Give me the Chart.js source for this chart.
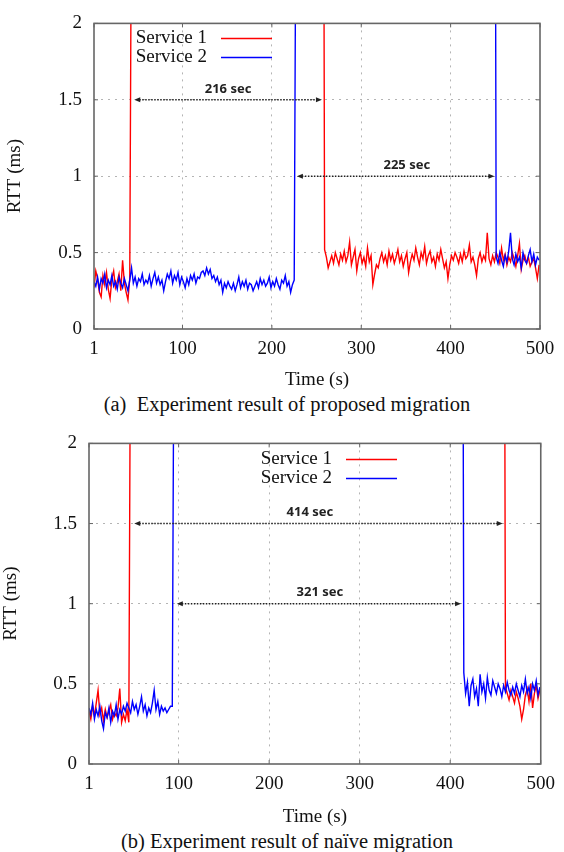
<!DOCTYPE html>
<html>
<head>
<meta charset="utf-8">
<script src="https://cdn.jsdelivr.net/npm/chart.js@4.4.1/dist/chart.umd.min.js"></script>
<style>
  html, body { margin: 0; padding: 0; background: #fff; }
  body { width: 564px; height: 852px; position: relative; overflow: hidden; font-family: "Liberation Serif", "Times New Roman", serif; }
  .box { position: absolute; left: 0; width: 564px; }
  .caption { position: absolute; left: 0; width: 574px; text-align: center; font-size: 20.5px; line-height: 22px; color: #111; white-space: nowrap; }
</style>
</head>
<body>
<div class="box" style="top:0;height:391px"><canvas id="chartA"></canvas></div>
<div class="caption" style="top:393px">(a)&nbsp; Experiment result of proposed migration</div>
<div class="box" style="top:420px;height:408px"><canvas id="chartB"></canvas></div>
<div class="caption" style="top:830px">(b) Experiment result of naïve migration</div>

<script>
// samples are every 2 s; while a service is migrating its RTT is off the scale
const step = 2;
const offScale = 3;
const xTicks = [1, 100, 200, 300, 400, 500];
const seriesNames = ['Service 1', 'Service 2'];
const seriesColors = ['#ff0000', '#0000ff'];

// (a) proposed migration
const aSvc1Pre = [0.27, 0.38, 0.33, 0.24, 0.21, 0.35, 0.29, 0.37, 0.26, 0.20, 0.33, 0.38, 0.27, 0.31, 0.36, 0.25, 0.45, 0.30, 0.24, 0.19, 0.33];
const aSvc1Out = [43, 258];
const aSvc1Post = [
  0.52, 0.47, 0.40, 0.44, 0.48, 0.43, 0.50, 0.46, 0.42, 0.49,
  0.45, 0.51, 0.44, 0.48, 0.57, 0.42, 0.47, 0.52, 0.38, 0.46,
  0.50, 0.43, 0.47, 0.41, 0.53, 0.44, 0.48, 0.29, 0.36, 0.42,
  0.40, 0.46, 0.50, 0.44, 0.48, 0.42, 0.51, 0.45, 0.49, 0.43,
  0.47, 0.52, 0.44, 0.48, 0.41, 0.46, 0.50, 0.37, 0.44, 0.49,
  0.45, 0.53, 0.47, 0.42, 0.50, 0.46, 0.54, 0.43, 0.48, 0.51,
  0.44, 0.47, 0.41, 0.49, 0.45, 0.52, 0.46, 0.40, 0.44, 0.33,
  0.42, 0.48, 0.45, 0.50, 0.47, 0.43, 0.49, 0.44, 0.51, 0.46,
  0.48, 0.55, 0.44, 0.47, 0.42, 0.35, 0.46, 0.50, 0.44, 0.48,
  0.45, 0.63, 0.46, 0.42, 0.48, 0.44, 0.50, 0.47, 0.43, 0.53,
  0.45, 0.49, 0.42, 0.47, 0.44, 0.50, 0.46, 0.41, 0.48, 0.56,
  0.39, 0.45, 0.48, 0.43, 0.47, 0.41, 0.44, 0.46, 0.40, 0.33,
  0.42
];
const aSvc2Pre = [
  0.31, 0.28, 0.34, 0.26, 0.33, 0.30, 0.36, 0.27, 0.32, 0.29,
  0.35, 0.28, 0.31, 0.26, 0.34, 0.30, 0.27, 0.33, 0.29, 0.25,
  0.32, 0.40, 0.30, 0.34, 0.28, 0.33, 0.31, 0.36, 0.29, 0.32,
  0.30, 0.35, 0.28, 0.33, 0.37, 0.30, 0.34, 0.29, 0.32, 0.25,
  0.31, 0.36, 0.33, 0.38, 0.30, 0.35, 0.32, 0.37, 0.29, 0.34,
  0.31, 0.27, 0.33, 0.29, 0.35, 0.32, 0.36, 0.30, 0.34, 0.33,
  0.37, 0.38, 0.35, 0.40, 0.36, 0.39, 0.33, 0.35, 0.31, 0.34,
  0.29, 0.32, 0.24, 0.30, 0.27, 0.31, 0.28, 0.26, 0.30, 0.25,
  0.29, 0.34, 0.27, 0.31, 0.28, 0.32, 0.26, 0.30, 0.29, 0.25,
  0.28, 0.31, 0.27, 0.33, 0.29, 0.32, 0.28, 0.30, 0.34, 0.27,
  0.31, 0.28, 0.33, 0.29, 0.26, 0.32, 0.30, 0.35, 0.28, 0.31,
  0.24, 0.29, 0.32
];
const aSvc2Out = [227, 450];
const aSvc2Post = [0.47, 0.43, 0.50, 0.45, 0.41, 0.48, 0.44, 0.51, 0.63, 0.46, 0.42, 0.49, 0.44, 0.47, 0.40, 0.50, 0.45, 0.43, 0.48, 0.52, 0.44, 0.49, 0.42, 0.47, 0.45];
const aGapFrom = [46, 228];
const aGapTo = [256, 449];
const aGapY = [1.5, 1];
const aGapText = ['216 sec', '225 sec'];
const aGapLabelAt = [151, 351];

// (b) naive migration
const bSvc1Pre = [0.33, 0.28, 0.36, 0.30, 0.38, 0.46, 0.31, 0.35, 0.27, 0.34, 0.29, 0.33, 0.37, 0.28, 0.32, 0.30, 0.35, 0.47, 0.26, 0.31, 0.27, 0.34, 0.26];
const bSvc1Out = [47, 460];
const bSvc1Post = [0.48, 0.44, 0.40, 0.46, 0.42, 0.38, 0.45, 0.41, 0.36, 0.28, 0.34, 0.43, 0.47, 0.39, 0.50, 0.35, 0.44, 0.49, 0.41, 0.46];
const bSvc2Pre = [
  0.35, 0.31, 0.38, 0.28, 0.34, 0.30, 0.36, 0.27, 0.22, 0.32,
  0.29, 0.35, 0.26, 0.33, 0.30, 0.37, 0.28, 0.34, 0.31, 0.36,
  0.33, 0.38, 0.35, 0.32, 0.39, 0.34, 0.37, 0.31, 0.36, 0.42,
  0.33, 0.37, 0.30, 0.35, 0.32, 0.38, 0.46, 0.34, 0.39, 0.31,
  0.36, 0.33, 0.35, 0.32, 0.34, 0.36, 0.36
];
const bSvc2Out = [95, 414];
const bSvc2Post = [
  0.57, 0.44, 0.51, 0.36, 0.49, 0.53, 0.42, 0.47, 0.36, 0.56,
  0.45, 0.50, 0.41, 0.54, 0.46, 0.43, 0.52, 0.48, 0.44, 0.50,
  0.47, 0.42, 0.49, 0.45, 0.51, 0.46, 0.43, 0.48, 0.44, 0.50,
  0.46, 0.42, 0.49, 0.45, 0.53, 0.44, 0.48, 0.41, 0.50, 0.46,
  0.52, 0.43, 0.48
];
const bGapFrom = [51, 98];
const bGapTo = [458, 412];
const bGapY = [1.5, 1];
const bGapText = ['414 sec', '321 sec'];
const bGapLabelAt = [245, 256];

Chart.defaults.font.family = '"Liberation Serif", "Times New Roman", serif';
Chart.defaults.font.size = 19;
Chart.defaults.color = '#111';

function buildSeries(pre, out, post) {
  const pts = pre.map((v, i) => ({ x: 1 + i * step, y: v }));
  pts.push({ x: out[0], y: offScale }, { x: out[1], y: offScale });
  post.forEach((v, i) => pts.push({ x: out[1] + 1 + i * step, y: v }));
  return pts;
}

function arrowHead(ctx, x, y, dir) {
  ctx.beginPath();
  ctx.moveTo(x, y);
  ctx.lineTo(x + dir * 6, y - 2.5);
  ctx.lineTo(x + dir * 6, y + 2.5);
  ctx.closePath();
  ctx.fill();
}

// frame, inner tick marks, gap arrows and the key
function makeOverlay(gaps, key) {
  return {
    id: 'overlay',
    afterDatasetsDraw(chart) {
      const { ctx, chartArea: a, scales: { x, y } } = chart;
      ctx.save();

      ctx.strokeStyle = '#222';
      ctx.fillStyle = '#222';
      ctx.lineWidth = 1.4;
      gaps.from.forEach((f, i) => {
        const x1 = x.getPixelForValue(f);
        const x2 = x.getPixelForValue(gaps.to[i]);
        const yy = y.getPixelForValue(gaps.y[i]);
        ctx.setLineDash([1.5, 1.5]);
        ctx.beginPath();
        ctx.moveTo(x1 + 5, yy);
        ctx.lineTo(x2 - 5, yy);
        ctx.stroke();
        ctx.setLineDash([]);
        arrowHead(ctx, x1, yy, 1);
        arrowHead(ctx, x2, yy, -1);
        ctx.font = 'bold 13px "Noto Sans", "DejaVu Sans", sans-serif';
        ctx.textAlign = 'center';
        ctx.textBaseline = 'middle';
        ctx.fillText(gaps.text[i], x.getPixelForValue(gaps.labelAt[i]), yy - 11);
      });

      // key
      ctx.font = '19px "Liberation Serif", "Times New Roman", serif';
      ctx.textAlign = 'right';
      ctx.textBaseline = 'middle';
      chart.data.datasets.forEach((ds, i) => {
        const ty = a.top + key.top + i * 19;
        const tx = a.left + key.right;
        ctx.fillStyle = '#111';
        ctx.fillText(ds.label, tx, ty);
        ctx.strokeStyle = ds.borderColor;
        ctx.lineWidth = 1.5;
        ctx.beginPath();
        ctx.moveTo(tx + 14, ty);
        ctx.lineTo(tx + 65, ty);
        ctx.stroke();
      });

      // small inward tick marks
      ctx.strokeStyle = '#666';
      ctx.lineWidth = 1;
      x.ticks.forEach(t => {
        const px = x.getPixelForValue(t.value);
        ctx.beginPath();
        ctx.moveTo(px, a.bottom); ctx.lineTo(px, a.bottom - 4);
        ctx.moveTo(px, a.top); ctx.lineTo(px, a.top + 4);
        ctx.stroke();
      });
      y.ticks.forEach(t => {
        const py = y.getPixelForValue(t.value);
        ctx.beginPath();
        ctx.moveTo(a.left, py); ctx.lineTo(a.left + 4, py);
        ctx.moveTo(a.right, py); ctx.lineTo(a.right - 4, py);
        ctx.stroke();
      });

      // plot frame
      ctx.strokeStyle = '#666';
      ctx.lineWidth = 1.6;
      ctx.strokeRect(a.left, a.top, a.right - a.left, a.bottom - a.top);
      ctx.restore();
    }
  };
}

function makeChart(id, s1, s2, gaps, p) {
  return new Chart(document.getElementById(id), {
    type: 'line',
    data: {
      datasets: [
        { label: seriesNames[0], data: s1, borderColor: seriesColors[0], borderWidth: 1.4, pointRadius: 0, tension: 0, order: 1 },
        { label: seriesNames[1], data: s2, borderColor: seriesColors[1], borderWidth: 1.4, pointRadius: 0, tension: 0, order: 0 }
      ]
    },
    options: {
      responsive: true,
      maintainAspectRatio: false,
      animation: false,
      events: [],
      layout: { padding: { top: p.top, right: p.right, left: 0, bottom: 0 } },
      plugins: { legend: { display: false }, tooltip: { enabled: false } },
      scales: {
        x: {
          type: 'linear',
          min: 1,
          max: 500,
          afterBuildTicks: s => { s.ticks = xTicks.map(v => ({ value: v })); },
          afterFit: s => { s.height = p.xAxisH; },
          grid: {
            drawTicks: false,
            color: c => (c.tick.value === 1 || c.tick.value === 500) ? 'rgba(0,0,0,0)' : '#b4b4b4'
          },
          border: { display: false, dash: [2, 5] },
          ticks: { padding: 9, maxRotation: 0, autoSkip: false, color: '#111' },
          title: { display: true, text: 'Time (s)', color: '#111', padding: { top: 0, bottom: 0 } }
        },
        y: {
          min: 0,
          max: 2,
          afterFit: s => { s.width = p.yAxisW; },
          grid: {
            drawTicks: false,
            color: c => (c.tick.value === 0 || c.tick.value === 2) ? 'rgba(0,0,0,0)' : '#b4b4b4'
          },
          border: { display: false, dash: [2, 5] },
          ticks: { stepSize: 0.5, padding: 12, color: '#111', callback: v => String(v) },
          title: { display: true, text: 'RTT (ms)', color: '#111', padding: { top: p.titlePad, bottom: 0 } }
        }
      }
    },
    plugins: [makeOverlay(gaps, p.key)]
  });
}

makeChart('chartA',
  buildSeries(aSvc1Pre, aSvc1Out, aSvc1Post),
  buildSeries(aSvc2Pre, aSvc2Out, aSvc2Post),
  { from: aGapFrom, to: aGapTo, y: aGapY, text: aGapText, labelAt: aGapLabelAt },
  { top: 11, right: 24, xAxisH: 62, yAxisW: 94, titlePad: 4, key: { right: 113, top: 15 } });

makeChart('chartB',
  buildSeries(bSvc1Pre, bSvc1Out, bSvc1Post),
  buildSeries(bSvc2Pre, bSvc2Out, bSvc2Post),
  { from: bGapFrom, to: bGapTo, y: bGapY, text: bGapText, labelAt: bGapLabelAt },
  { top: 18, right: 17, xAxisH: 64, yAxisW: 89, titlePad: 0, key: { right: 243, top: 16 } });
</script>
</body>
</html>
